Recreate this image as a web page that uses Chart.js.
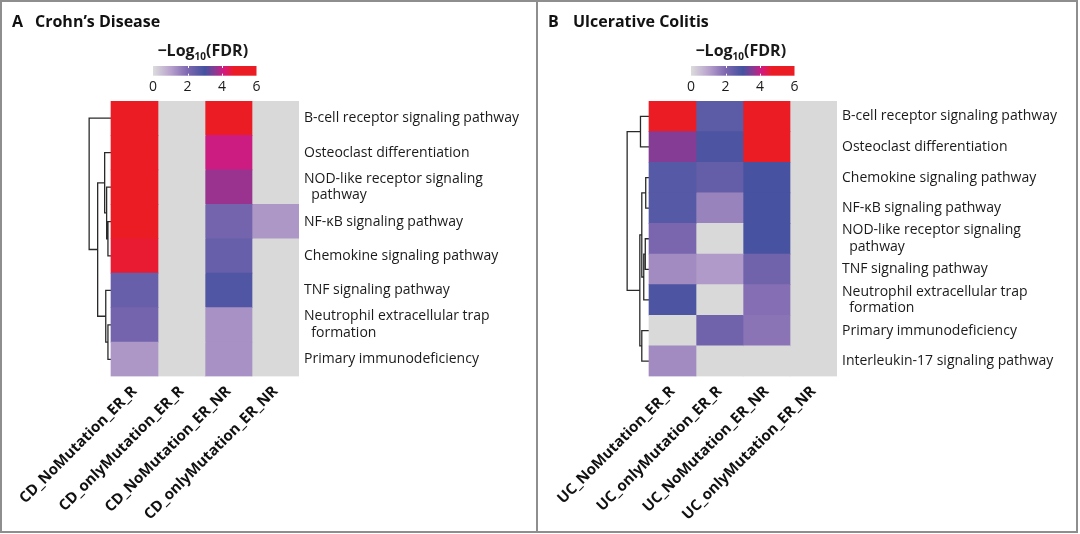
<!DOCTYPE html>
<html>
<head>
<meta charset="utf-8">
<script src="https://cdn.jsdelivr.net/npm/chart.js@4.4.0/dist/chart.umd.min.js"></script>
<style>
  html, body { margin: 0; padding: 0; background: #fff; }
  #figure { position: relative; width: 1080px; height: 534px; background: #fff; overflow: hidden; }
  .panel { position: absolute; top: 0; height: 534px; }
  #panelA { left: 0; width: 537px; }
  #panelB { left: 538px; width: 542px; }
  .frame { position: absolute; left: 0; top: 0; width: 1078px; height: 533px; border: 2px solid #8e8e8e; box-sizing: border-box; pointer-events: none; }
  .divider { position: absolute; left: 536px; top: 0; width: 2px; height: 533px; background: #8e8e8e; }
  .title { position: absolute; top: 13px; font: bold 16px/16px 'Open Sans', sans-serif; color: #111; white-space: pre; }
</style>
</head>
<body>
<div id="figure">
  <div class="panel" id="panelA"><canvas id="cdChart"></canvas></div>
  <div class="panel" id="panelB"><canvas id="ucChart"></canvas></div>
  <div class="title" style="left:12px">A</div>
  <div class="title" style="left:35px">Crohn’s Disease</div>
  <div class="title" style="left:548px">B</div>
  <div class="title" style="left:573px">Ulcerative Colitis</div>
  <div class="frame"></div>
  <div class="divider"></div>
</div>
<script>
// colour key for -log10(FDR)
var scaleStops = [0, 1, 2, 3, 3.6, 4.1, 4.7, 6];
var scaleColors = ['#dcdcdc', '#b9a3cd', '#7f68b0', '#4452a0', '#8a3a93', '#d3197f', '#ec1c24', '#ec1c24'];
var legendTicks = [0, 2, 4, 6];
var naColor = '#d9d9d9';

// A  Crohn's disease
var cdRows = ['B-cell receptor signaling pathway', 'Osteoclast differentiation', ['NOD-like receptor signaling', '  pathway'],
     'NF-κB signaling pathway', 'Chemokine signaling pathway', 'TNF signaling pathway',
     ['Neutrophil extracellular trap', '  formation'], 'Primary immunodeficiency'];
var cdCols = ['CD_NoMutation_ER_R', 'CD_onlyMutation_ER_R', 'CD_NoMutation_ER_NR', 'CD_onlyMutation_ER_NR'];
var cdNoMutationR = [6, 6, 6, 6, 4.6, 2.4, 2.2, 1.2];
var cdOnlyMutationR = [null, null, null, null, null, null, null, null];
var cdNoMutationNR = [6, 4.05, 3.7, 2.2, 2.4, 2.8, 1.3, 1.3];
var cdOnlyMutationNR = [null, null, null, 1.2, null, null, null, null];
// row clustering: [left, right, height], clusters numbered after the leaves
var cdTree = [[3, 4, 0.14], [2, 8, 0.2], [1, 9, 0.29], [6, 7, 0.14], [5, 11, 0.24], [10, 12, 0.61], [0, 13, 1]];

// B  Ulcerative colitis
var ucRows = ['B-cell receptor signaling pathway', 'Osteoclast differentiation', 'Chemokine signaling pathway',
     'NF-κB signaling pathway', ['NOD-like receptor signaling', '  pathway'], 'TNF signaling pathway',
     ['Neutrophil extracellular trap', '  formation'], 'Primary immunodeficiency', 'Interleukin-17 signaling pathway'];
var ucCols = ['UC_NoMutation_ER_R', 'UC_onlyMutation_ER_R', 'UC_NoMutation_ER_NR', 'UC_onlyMutation_ER_NR'];
var ucNoMutationR = [6, 3.55, 2.7, 2.7, 2.1, 1.4, 2.85, null, 1.4];
var ucOnlyMutationR = [2.6, 2.85, 2.45, 1.55, null, 1.15, null, 2.25, null];
var ucNoMutationNR = [6, 6, 2.95, 2.95, 2.95, 2.25, 1.9, 1.8, null];
var ucOnlyMutationNR = [null, null, null, null, null, null, null, null, null];
var ucTree = [[0, 1, 0.39], [2, 3, 0.15], [4, 5, 0.17], [11, 6, 0.24], [10, 12, 0.33], [7, 8, 0.33], [13, 14, 0.42], [9, 15, 1]];

var FONT = "'Open Sans', sans-serif";
var DENDRO_W = 0.465;   // tree depth in column widths

function hexToRgb(hex) {
     var n = parseInt(hex.slice(1), 16);
     return [(n >> 16) & 255, (n >> 8) & 255, n & 255];
}

function fdrColor(v) {
     if (v === null) return naColor;
     v = Math.max(0, Math.min(6, v));
     for (var k = 1; k < scaleStops.length; k++) {
          if (v <= scaleStops[k]) {
               var t = (v - scaleStops[k - 1]) / (scaleStops[k] - scaleStops[k - 1]);
               var a = hexToRgb(scaleColors[k - 1]), b = hexToRgb(scaleColors[k]);
               return 'rgb(' + a.map(function (c, i) { return Math.round(c + (b[i] - c) * t); }).join(',') + ')';
          }
     }
     return scaleColors[scaleColors.length - 1];
}

// turn the merge list into one broken line (null points split the links)
function treePoints(tree, n) {
     var pos = [], height = [], pts = [];
     for (var i = 0; i < n; i++) { pos.push(i); height.push(0); }
     tree.forEach(function (m) {
          var a = m[0], b = m[1], h = m[2] * DENDRO_W;
          pts.push({ x: -height[a], y: pos[a] }, { x: -h, y: pos[a] }, { x: -h, y: pos[b] }, { x: -height[b], y: pos[b] }, { x: null, y: null });
          pos.push((pos[a] + pos[b]) / 2);
          height.push(h);
     });
     return pts;
}

var fdrLegend = {
     id: 'fdrLegend',
     afterDraw: function (chart) {
          var ctx = chart.ctx;
          var left = chart.chartArea.left + 65.5, top = 66, w = 103.5, h = 9.7;
          var grad = ctx.createLinearGradient(left, 0, left + w, 0);
          scaleStops.forEach(function (s, k) { grad.addColorStop(s / 6, scaleColors[k]); });
          ctx.save();
          ctx.fillStyle = grad;
          ctx.fillRect(left, top, w, h);
          ctx.strokeStyle = '#fff';
          ctx.lineWidth = 1;
          legendTicks.slice(1, -1).forEach(function (t) {
               var x = Math.round(left + t / 6 * w) + 0.5;
               ctx.beginPath();
               ctx.moveTo(x, top); ctx.lineTo(x, top + 2);
               ctx.moveTo(x, top + h - 2); ctx.lineTo(x, top + h);
               ctx.stroke();
          });
          ctx.fillStyle = '#1a1a1a';
          ctx.textAlign = 'center';
          ctx.textBaseline = 'alphabetic';
          ctx.font = '14px ' + FONT;
          legendTicks.forEach(function (t) {
               ctx.fillText(String(t), left + t / 6 * w, 90.5);
          });
          // -Log10(FDR) with subscript
          var big = 'bold 16px ' + FONT, small = 'bold 10px ' + FONT;
          ctx.font = big;
          var w1 = ctx.measureText('\u2212Log').width, w3 = ctx.measureText('(FDR)').width;
          ctx.font = small;
          var w2 = ctx.measureText('10').width;
          var x0 = left + w / 2 - 2 - (w1 + w2 + w3) / 2;
          ctx.textAlign = 'left';
          ctx.font = big;
          ctx.fillText('\u2212Log', x0, 56);
          ctx.fillText('(FDR)', x0 + w1 + w2, 56);
          ctx.font = small;
          ctx.fillText('10', x0 + w1, 60);
          ctx.restore();
     }
};

function heatmap(idName, rows, cols, columns, tree) {
     var datasets = columns.map(function (vals, j) {
          return {
               type: 'bar',
               label: cols[j],
               data: vals.map(function (v, i) { return { x: 1, y: i }; }),
               backgroundColor: vals.map(fdrColor),
               borderWidth: 0,
               barPercentage: 1,
               categoryPercentage: 1,
               stack: 'cells'
          };
     });
     datasets.push({
          type: 'line',
          label: 'tree',
          data: treePoints(tree, rows.length),
          borderColor: '#2a2a2a',
          borderWidth: 1.3,
          pointRadius: 0,
          tension: 0,
          fill: false,
          spanGaps: false,
          stack: 'tree'
     });

     new Chart(document.getElementById(idName), {
          type: 'bar',
          data: { datasets: datasets },
          options: {
               indexAxis: 'y',
               responsive: true,
               maintainAspectRatio: false,
               animation: false,
               events: [],
               layout: { padding: { left: 87.5, top: 101, right: 0, bottom: 0 } },
               plugins: {
                    legend: { display: false },
                    tooltip: { enabled: false }
               },
               scales: {
                    x: {
                         type: 'linear',
                         min: -0.5,
                         max: cols.length,
                         stacked: true,
                         grid: { display: false, drawTicks: false },
                         border: { display: false },
                         afterBuildTicks: function (axis) {
                              axis.ticks = cols.map(function (c, j) { return { value: j + 0.5 }; });
                         },
                         afterFit: function (axis) {
                              axis.height = 157.5;
                              // rotated labels may hang past the left edge; keep the plot where it is
                              axis.paddingLeft = 0;
                              axis.paddingRight = 0;
                         },
                         ticks: {
                              autoSkip: false,
                              minRotation: 45,
                              maxRotation: 45,
                              padding: 6,
                              color: '#111',
                              font: { family: FONT, size: 15, weight: 'bold' },
                              callback: function (v) { return cols[Math.floor(v)]; }
                         }
                    },
                    y: {
                         type: 'linear',
                         position: 'right',
                         reverse: true,
                         offset: false,
                         min: -0.5,
                         max: rows.length - 0.5,
                         grid: { display: false, drawTicks: false },
                         border: { display: false },
                         afterBuildTicks: function (axis) {
                              axis.ticks = rows.map(function (r, i) { return { value: i }; });
                         },
                         afterFit: function (axis) { axis.width = axis.chart.width - 299; },
                         ticks: {
                              autoSkip: false,
                              padding: 5,
                              color: '#1a1a1a',
                              font: { family: FONT, size: 14 },
                              callback: function (v) { return rows[v]; }
                         }
                    }
               }
          },
          plugins: [fdrLegend]
     });
}

heatmap('cdChart', cdRows, cdCols, [cdNoMutationR, cdOnlyMutationR, cdNoMutationNR, cdOnlyMutationNR], cdTree);
heatmap('ucChart', ucRows, ucCols, [ucNoMutationR, ucOnlyMutationR, ucNoMutationNR, ucOnlyMutationNR], ucTree);
</script>
</body>
</html>
